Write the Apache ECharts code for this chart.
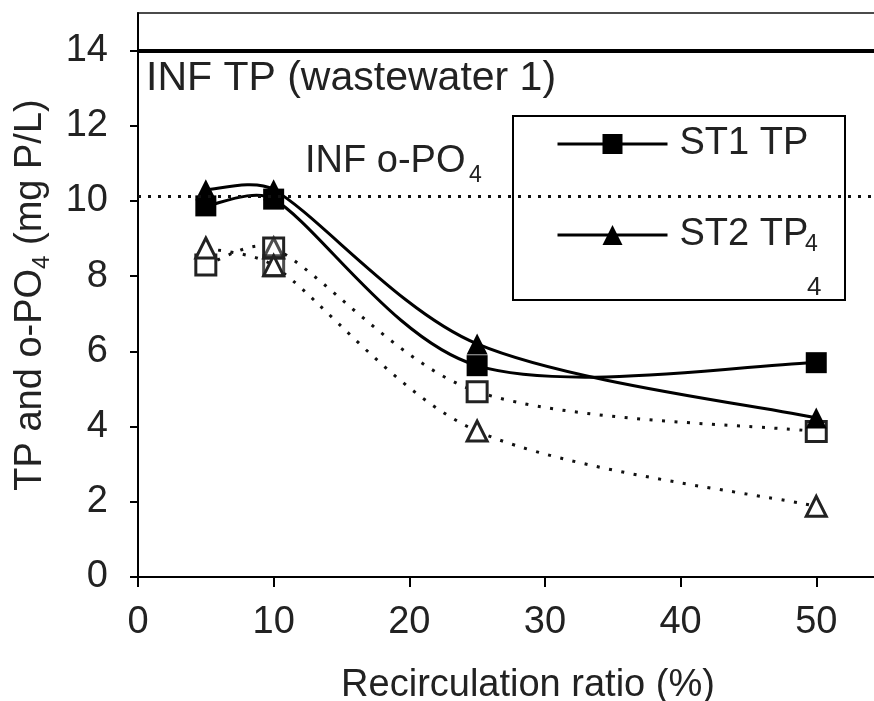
<!DOCTYPE html>
<html>
<head>
<meta charset="utf-8">
<script src="https://cdn.jsdelivr.net/npm/echarts@6/dist/echarts.min.js"></script>
<style>
  html, body { margin: 0; padding: 0; background: #fff; }
  #chart { width: 874px; height: 701px; }
</style>
</head>
<body>
<div id="chart"></div>
<script>
// recirculation ratios (%) and measured concentrations (mg P/L)
const ratios = [5, 10, 25, 50];
const st1TP = [9.87, 10.05, 5.62, 5.7];
const st2TP = [10.3, 10.3, 6.2, 4.23];
const st1PO4 = [8.3, 8.75, 4.93, 3.87];
const st2PO4 = [8.75, 8.28, 3.88, 1.88];
// overlapping markers seen at 10 %
const extraPO4Square = [[10, 8.28]];
const extraPO4Triangle = [[10, 8.75]];
const infTP = 14;
const infPO4 = 10.12;
const xTicks = [0, 10, 20, 30, 40, 50];
const yTicks = [0, 2, 4, 6, 8, 10, 12, 14];

const FONT = "'Liberation Sans', Arial, sans-serif";
const TXT = '#222';

const pairs = (ys) => ratios.map((x, i) => [x, ys[i]]);

// Excel-like smoothed line: Catmull-Rom handles, capped on short segments
function handle(from, to, dx, dy, segLen) {
  let len = Math.hypot(dx, dy) / 6;
  const cap = segLen * 0.33;
  const k = len > cap && len > 0 ? cap / len : 1;
  return [from[0] + dx / 6 * k * to, from[1] + dy / 6 * k * to];
}

function smoothLine(name, ys, lineStyle) {
  return {
    name: name, type: 'custom', z: 1, silent: true,
    data: pairs(ys),
    renderItem: function (params, api) {
      if (params.dataIndex !== 0) return;
      const p = ratios.map((x, i) => api.coord([x, ys[i]]));
      const n = p.length;
      const segs = [];
      for (let i = 0; i < n - 1; i++) {
        const p0 = p[Math.max(i - 1, 0)], p1 = p[i], p2 = p[i + 1], p3 = p[Math.min(i + 2, n - 1)];
        const segLen = Math.hypot(p2[0] - p1[0], p2[1] - p1[1]);
        const c1 = handle(p1, 1, p2[0] - p0[0], p2[1] - p0[1], segLen);
        const c2 = handle(p2, -1, p3[0] - p1[0], p3[1] - p1[1], segLen);
        segs.push({
          type: 'bezierCurve',
          shape: { x1: p1[0], y1: p1[1], x2: p2[0], y2: p2[1], cpx1: c1[0], cpy1: c1[1], cpx2: c2[0], cpy2: c2[1] },
          style: Object.assign({ fill: null }, lineStyle)
        });
      }
      return { type: 'group', children: segs };
    }
  };
}

const chart = echarts.init(document.getElementById('chart'));

const legendCommon = {
  orient: 'horizontal',
  padding: 0,
  itemWidth: 110,
  itemHeight: 25,
  selectedMode: false,
  z: 6,
  lineStyle: { color: '#000', width: 3, type: 'solid', opacity: 1 },
  textStyle: { fontSize: 38, color: TXT, fontFamily: FONT, padding: [0, 0, 0, 7] }
};

const solid = { stroke: '#000', lineWidth: 3 };
const dotted = { stroke: '#111', lineWidth: 3, lineDash: [3, 9.5] };

const option = {
  animation: false,
  backgroundColor: '#fff',
  grid: {
    left: 138, top: 13, bottom: 124, width: 780,
    outerBoundsMode: 'none',
    show: true, borderColor: '#111', borderWidth: 1.5, backgroundColor: '#fff'
  },
  xAxis: {
    type: 'value',
    min: 0, max: 57.5, interval: 10,
    name: 'Recirculation ratio (%)',
    nameLocation: 'middle',
    nameGap: 90,
    nameTextStyle: { fontSize: 38, color: TXT, fontFamily: FONT },
    axisLine: { show: true, onZero: false, lineStyle: { color: '#000', width: 2 } },
    axisTick: { show: true, length: 10, customValues: xTicks, lineStyle: { color: '#000', width: 2 } },
    axisLabel: { fontSize: 38, color: TXT, fontFamily: FONT, margin: 27, customValues: xTicks },
    splitLine: { show: false }
  },
  yAxis: {
    type: 'value',
    min: 0, max: 15, interval: 2,
    name: 'TP and o-PO{s|4} (mg P/L)',
    nameLocation: 'middle',
    nameGap: 84,
    nameTextStyle: {
      fontSize: 38, color: TXT, fontFamily: FONT, lineHeight: 46,
      rich: { s: { fontSize: 24, fontFamily: FONT, color: TXT, lineHeight: 24, verticalAlign: 'bottom' } }
    },
    axisLine: { show: true, lineStyle: { color: '#000', width: 2 } },
    axisTick: { show: true, length: 8, customValues: yTicks, lineStyle: { color: '#000', width: 2 } },
    axisLabel: { fontSize: 38, color: TXT, fontFamily: FONT, margin: 30, customValues: yTicks },
    splitLine: { show: false }
  },
  legend: [
    Object.assign({ data: ['ST1 TP'], left: 556, top: 125 }, legendCommon),
    Object.assign({ data: ['ST2 TP'], left: 556, top: 216 }, legendCommon)
  ],
  graphic: [
    { type: 'rect', z: 3, shape: { x: 513, y: 116, width: 332, height: 184 },
      style: { fill: '#fff', stroke: '#000', lineWidth: 2 } },
    { type: 'text', z: 10, x: 146, y: 79,
      style: { text: 'INF TP (wastewater 1)', fontSize: 41, fontFamily: FONT, fill: TXT, verticalAlign: 'middle' } },
    { type: 'text', z: 10, x: 305, y: 162,
      style: { text: 'INF o-PO', fontSize: 38, fontFamily: FONT, fill: TXT, verticalAlign: 'middle' } },
    { type: 'text', z: 10, x: 469, y: 176,
      style: { text: '4', fontSize: 23, fontFamily: FONT, fill: TXT, verticalAlign: 'middle' } },
    { type: 'text', z: 10, x: 805, y: 245,
      style: { text: '4', fontSize: 23, fontFamily: FONT, fill: TXT, verticalAlign: 'middle' } },
    { type: 'text', z: 10, x: 807, y: 288,
      style: { text: '4', fontSize: 26, fontFamily: FONT, fill: TXT, verticalAlign: 'middle' } }
  ],
  series: [
    smoothLine('ST1 o-PO4 line', st1PO4, dotted),
    smoothLine('ST2 o-PO4 line', st2PO4, dotted),
    smoothLine('ST1 TP line', st1TP, solid),
    smoothLine('ST2 TP line', st2TP, solid),
    {
      name: 'ST1 o-PO4', type: 'line', data: pairs(st1PO4),
      symbol: 'rect', symbolSize: 20, z: 2,
      lineStyle: { opacity: 0 },
      itemStyle: { color: '#fff', borderColor: '#222', borderWidth: 3 }
    },
    {
      name: 'ST2 o-PO4', type: 'line', data: pairs(st2PO4),
      symbol: 'triangle', symbolSize: 20, z: 2,
      lineStyle: { opacity: 0 },
      itemStyle: { color: '#fff', borderColor: '#222', borderWidth: 3 }
    },
    {
      name: 'extra sq', type: 'scatter', data: extraPO4Square, symbol: 'rect', symbolSize: 20, z: 2,
      itemStyle: { color: 'rgba(255,255,255,0)', borderColor: '#222', borderWidth: 3 }
    },
    {
      name: 'extra tri', type: 'scatter', data: extraPO4Triangle, symbol: 'triangle', symbolSize: 20, z: 2,
      itemStyle: { color: 'rgba(255,255,255,0)', borderColor: '#222', borderWidth: 3 }
    },
    {
      name: 'ST1 TP', type: 'line', data: pairs(st1TP),
      symbol: 'rect', symbolSize: 21, z: 2,
      lineStyle: { opacity: 0 },
      itemStyle: { color: '#000' },
      markLine: {
        silent: true, symbol: ['none', 'none'], label: { show: false },
        data: [
          { yAxis: infTP, lineStyle: { color: '#000', width: 4, type: 'solid', opacity: 1 } },
          { yAxis: infPO4, lineStyle: { color: '#111', width: 3, type: [3, 7], opacity: 1 } }
        ]
      }
    },
    {
      name: 'ST2 TP', type: 'line', data: pairs(st2TP),
      symbol: 'triangle', symbolSize: 21, z: 2,
      lineStyle: { opacity: 0 },
      itemStyle: { color: '#000' }
    }
  ]
};

chart.setOption(option);
</script>
</body>
</html>
